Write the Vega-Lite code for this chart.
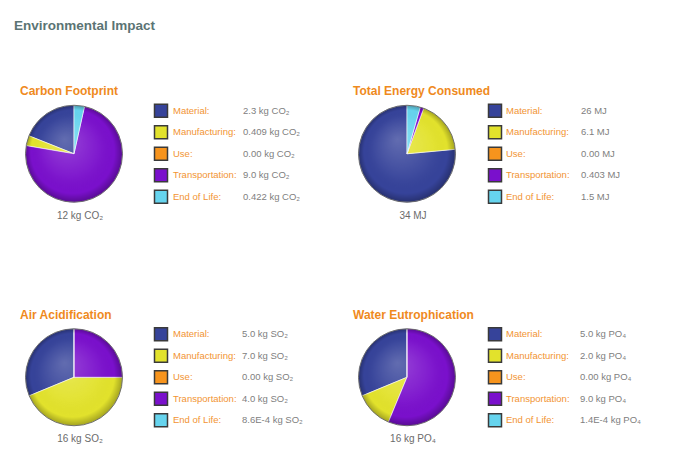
{
  "$schema": "https://vega.github.io/schema/vega-lite/v6.json",
  "padding": {"left": 14, "top": 19, "right": 5, "bottom": 5},
  "background": "white",
  "datasets": {
    "impact": [
      {"panel": "Carbon Footprint", "category": "Material", "value": 2.3, "valueLabel": "2.3 kg CO₂", "order": 1},
      {"panel": "Carbon Footprint", "category": "Manufacturing", "value": 0.409, "valueLabel": "0.409 kg CO₂", "order": 2},
      {"panel": "Carbon Footprint", "category": "Use", "value": 0, "valueLabel": "0.00 kg CO₂", "order": 3},
      {"panel": "Carbon Footprint", "category": "Transportation", "value": 9.0, "valueLabel": "9.0 kg CO₂", "order": 4},
      {"panel": "Carbon Footprint", "category": "End of Life", "value": 0.422, "valueLabel": "0.422 kg CO₂", "order": 5},
      {"panel": "Total Energy Consumed", "category": "Material", "value": 26, "valueLabel": "26 MJ", "order": 1},
      {"panel": "Total Energy Consumed", "category": "Manufacturing", "value": 6.1, "valueLabel": "6.1 MJ", "order": 2},
      {"panel": "Total Energy Consumed", "category": "Use", "value": 0, "valueLabel": "0.00 MJ", "order": 3},
      {"panel": "Total Energy Consumed", "category": "Transportation", "value": 0.403, "valueLabel": "0.403 MJ", "order": 4},
      {"panel": "Total Energy Consumed", "category": "End of Life", "value": 1.5, "valueLabel": "1.5 MJ", "order": 5},
      {"panel": "Air Acidification", "category": "Material", "value": 5.0, "valueLabel": "5.0 kg SO₂", "order": 1},
      {"panel": "Air Acidification", "category": "Manufacturing", "value": 7.0, "valueLabel": "7.0 kg SO₂", "order": 2},
      {"panel": "Air Acidification", "category": "Use", "value": 0, "valueLabel": "0.00 kg SO₂", "order": 3},
      {"panel": "Air Acidification", "category": "Transportation", "value": 4.0, "valueLabel": "4.0 kg SO₂", "order": 4},
      {"panel": "Air Acidification", "category": "End of Life", "value": 0.00086, "valueLabel": "8.6E-4 kg SO₂", "order": 5},
      {"panel": "Water Eutrophication", "category": "Material", "value": 5.0, "valueLabel": "5.0 kg PO₄", "order": 1},
      {"panel": "Water Eutrophication", "category": "Manufacturing", "value": 2.0, "valueLabel": "2.0 kg PO₄", "order": 2},
      {"panel": "Water Eutrophication", "category": "Use", "value": 0, "valueLabel": "0.00 kg PO₄", "order": 3},
      {"panel": "Water Eutrophication", "category": "Transportation", "value": 9.0, "valueLabel": "9.0 kg PO₄", "order": 4},
      {"panel": "Water Eutrophication", "category": "End of Life", "value": 0.00014, "valueLabel": "1.4E-4 kg PO₄", "order": 5}
    ]
  },
  "data": {"name": "impact"},
  "title": {"text": "Environmental Impact", "anchor": "start", "dx": -6, "offset": 52.5, "font": "Liberation Sans, Arial, sans-serif", "fontSize": 13.5, "fontWeight": "bold", "color": "#5b7474"},
  "columns": 4,
  "spacing": {"row": 115.5, "column": 26},
  "bounds": "flush",
  "align": "each",
  "concat": [
    {
      "width": 108, "height": 107.5,
      "title": {"text": "Carbon Footprint", "anchor": "start", "offset": 2, "font": "Liberation Sans, Arial, sans-serif", "fontSize": 12, "fontWeight": "bold", "color": "#ef8a1d"},
      "transform": [{"filter": "datum.panel === 'Carbon Footprint'"}],
      "layer": [
        {
          "transform": [{"filter": "datum.value > 0"}],
          "mark": {"type": "arc", "radius": 48.5, "stroke": "#ffffff", "strokeWidth": 0.8, "strokeOpacity": 0.7},
          "encoding": {
            "theta": {"field": "value", "type": "quantitative", "stack": true},
            "order": {"field": "order", "sort": "descending"},
            "color": {"field": "category", "type": "nominal", "scale": {"domain": ["Material", "Manufacturing", "Use", "Transportation", "End of Life"], "range": ["#36439a", "#e2e22c", "#f7941d", "#7a10cc", "#66d4ee"]}, "legend": null}
          }
        },
        {
          "transform": [{"aggregate": [{"op": "sum", "field": "value", "as": "total"}]}],
          "mark": {"type": "arc", "radius": 48.5, "theta": 0, "theta2": 6.2832, "fill": {"gradient": "radial", "x1": 0.4, "y1": 0.35, "r1": 0, "x2": 0.5, "y2": 0.5, "r2": 0.5, "stops": [{"offset": 0, "color": "rgba(255,255,255,0.22)"}, {"offset": 0.6, "color": "rgba(255,255,255,0.04)"}, {"offset": 0.86, "color": "rgba(0,0,0,0)"}, {"offset": 1, "color": "rgba(0,0,0,0.28)"}]}, "stroke": "#5a5a5a", "strokeWidth": 1, "strokeOpacity": 0.8},
          "encoding": {}
        },
        {
          "transform": [{"aggregate": [{"op": "sum", "field": "value", "as": "total"}]}],
          "mark": {"type": "text", "text": "12 kg CO₂", "align": "center", "baseline": "alphabetic", "dx": 6, "dy": 65, "font": "Liberation Sans, Arial, sans-serif", "fontSize": 10, "color": "#6b6b6b"},
          "encoding": {}
        }
      ]
    },
    {
      "width": 173, "height": 107.5,
      "transform": [{"filter": "datum.panel === 'Carbon Footprint'"}],
      "encoding": {
        "y": {"field": "category", "type": "nominal", "scale": {"domain": ["Material", "Manufacturing", "Use", "Transportation", "End of Life"]}, "axis": null},
        "x": {"datum": 0, "type": "quantitative", "scale": {"domain": [0, 1]}, "axis": null}
      },
      "layer": [
        {
          "mark": {"type": "square", "size": 169, "filled": true, "opacity": 1, "stroke": "#3a3a3a", "strokeWidth": 1.5, "xOffset": 7},
          "encoding": {"color": {"field": "category", "type": "nominal", "scale": {"domain": ["Material", "Manufacturing", "Use", "Transportation", "End of Life"], "range": ["#36439a", "#e2e22c", "#f7941d", "#7a10cc", "#66d4ee"]}, "legend": null}}
        },
        {
          "mark": {"type": "text", "align": "left", "baseline": "middle", "dx": 19, "font": "Liberation Sans, Arial, sans-serif", "fontSize": 9.5, "color": "#f29433", "text": {"expr": "datum.category + ':'"}}
        },
        {
          "mark": {"type": "text", "align": "left", "baseline": "middle", "dx": 89, "font": "Liberation Sans, Arial, sans-serif", "fontSize": 9.5, "color": "#808080"},
          "encoding": {"text": {"field": "valueLabel"}}
        }
      ]
    },
    {
      "width": 108, "height": 107.5,
      "title": {"text": "Total Energy Consumed", "anchor": "start", "offset": 2, "font": "Liberation Sans, Arial, sans-serif", "fontSize": 12, "fontWeight": "bold", "color": "#ef8a1d"},
      "transform": [{"filter": "datum.panel === 'Total Energy Consumed'"}],
      "layer": [
        {
          "transform": [{"filter": "datum.value > 0"}],
          "mark": {"type": "arc", "radius": 48.5, "stroke": "#ffffff", "strokeWidth": 0.8, "strokeOpacity": 0.7},
          "encoding": {
            "theta": {"field": "value", "type": "quantitative", "stack": true},
            "order": {"field": "order", "sort": "descending"},
            "color": {"field": "category", "type": "nominal", "scale": {"domain": ["Material", "Manufacturing", "Use", "Transportation", "End of Life"], "range": ["#36439a", "#e2e22c", "#f7941d", "#7a10cc", "#66d4ee"]}, "legend": null}
          }
        },
        {
          "transform": [{"aggregate": [{"op": "sum", "field": "value", "as": "total"}]}],
          "mark": {"type": "arc", "radius": 48.5, "theta": 0, "theta2": 6.2832, "fill": {"gradient": "radial", "x1": 0.4, "y1": 0.35, "r1": 0, "x2": 0.5, "y2": 0.5, "r2": 0.5, "stops": [{"offset": 0, "color": "rgba(255,255,255,0.22)"}, {"offset": 0.6, "color": "rgba(255,255,255,0.04)"}, {"offset": 0.86, "color": "rgba(0,0,0,0)"}, {"offset": 1, "color": "rgba(0,0,0,0.28)"}]}, "stroke": "#5a5a5a", "strokeWidth": 1, "strokeOpacity": 0.8},
          "encoding": {}
        },
        {
          "transform": [{"aggregate": [{"op": "sum", "field": "value", "as": "total"}]}],
          "mark": {"type": "text", "text": "34 MJ", "align": "center", "baseline": "alphabetic", "dx": 6, "dy": 65, "font": "Liberation Sans, Arial, sans-serif", "fontSize": 10, "color": "#6b6b6b"},
          "encoding": {}
        }
      ]
    },
    {
      "width": 173, "height": 107.5,
      "transform": [{"filter": "datum.panel === 'Total Energy Consumed'"}],
      "encoding": {
        "y": {"field": "category", "type": "nominal", "scale": {"domain": ["Material", "Manufacturing", "Use", "Transportation", "End of Life"]}, "axis": null},
        "x": {"datum": 0, "type": "quantitative", "scale": {"domain": [0, 1]}, "axis": null}
      },
      "layer": [
        {
          "mark": {"type": "square", "size": 169, "filled": true, "opacity": 1, "stroke": "#3a3a3a", "strokeWidth": 1.5, "xOffset": 8},
          "encoding": {"color": {"field": "category", "type": "nominal", "scale": {"domain": ["Material", "Manufacturing", "Use", "Transportation", "End of Life"], "range": ["#36439a", "#e2e22c", "#f7941d", "#7a10cc", "#66d4ee"]}, "legend": null}}
        },
        {
          "mark": {"type": "text", "align": "left", "baseline": "middle", "dx": 19, "font": "Liberation Sans, Arial, sans-serif", "fontSize": 9.5, "color": "#f29433", "text": {"expr": "datum.category + ':'"}}
        },
        {
          "mark": {"type": "text", "align": "left", "baseline": "middle", "dx": 94, "font": "Liberation Sans, Arial, sans-serif", "fontSize": 9.5, "color": "#808080"},
          "encoding": {"text": {"field": "valueLabel"}}
        }
      ]
    },
    {
      "width": 108, "height": 107.5,
      "title": {"text": "Air Acidification", "anchor": "start", "offset": 2, "font": "Liberation Sans, Arial, sans-serif", "fontSize": 12, "fontWeight": "bold", "color": "#ef8a1d"},
      "transform": [{"filter": "datum.panel === 'Air Acidification'"}],
      "layer": [
        {
          "transform": [{"filter": "datum.value > 0"}],
          "mark": {"type": "arc", "radius": 48.5, "stroke": "#ffffff", "strokeWidth": 0.8, "strokeOpacity": 0.7},
          "encoding": {
            "theta": {"field": "value", "type": "quantitative", "stack": true},
            "order": {"field": "order", "sort": "descending"},
            "color": {"field": "category", "type": "nominal", "scale": {"domain": ["Material", "Manufacturing", "Use", "Transportation", "End of Life"], "range": ["#36439a", "#e2e22c", "#f7941d", "#7a10cc", "#66d4ee"]}, "legend": null}
          }
        },
        {
          "transform": [{"aggregate": [{"op": "sum", "field": "value", "as": "total"}]}],
          "mark": {"type": "arc", "radius": 48.5, "theta": 0, "theta2": 6.2832, "fill": {"gradient": "radial", "x1": 0.4, "y1": 0.35, "r1": 0, "x2": 0.5, "y2": 0.5, "r2": 0.5, "stops": [{"offset": 0, "color": "rgba(255,255,255,0.22)"}, {"offset": 0.6, "color": "rgba(255,255,255,0.04)"}, {"offset": 0.86, "color": "rgba(0,0,0,0)"}, {"offset": 1, "color": "rgba(0,0,0,0.28)"}]}, "stroke": "#5a5a5a", "strokeWidth": 1, "strokeOpacity": 0.8},
          "encoding": {}
        },
        {
          "transform": [{"aggregate": [{"op": "sum", "field": "value", "as": "total"}]}],
          "mark": {"type": "text", "text": "16 kg SO₂", "align": "center", "baseline": "alphabetic", "dx": 6, "dy": 65, "font": "Liberation Sans, Arial, sans-serif", "fontSize": 10, "color": "#6b6b6b"},
          "encoding": {}
        }
      ]
    },
    {
      "width": 173, "height": 107.5,
      "transform": [{"filter": "datum.panel === 'Air Acidification'"}],
      "encoding": {
        "y": {"field": "category", "type": "nominal", "scale": {"domain": ["Material", "Manufacturing", "Use", "Transportation", "End of Life"]}, "axis": null},
        "x": {"datum": 0, "type": "quantitative", "scale": {"domain": [0, 1]}, "axis": null}
      },
      "layer": [
        {
          "mark": {"type": "square", "size": 169, "filled": true, "opacity": 1, "stroke": "#3a3a3a", "strokeWidth": 1.5, "xOffset": 7},
          "encoding": {"color": {"field": "category", "type": "nominal", "scale": {"domain": ["Material", "Manufacturing", "Use", "Transportation", "End of Life"], "range": ["#36439a", "#e2e22c", "#f7941d", "#7a10cc", "#66d4ee"]}, "legend": null}}
        },
        {
          "mark": {"type": "text", "align": "left", "baseline": "middle", "dx": 19, "font": "Liberation Sans, Arial, sans-serif", "fontSize": 9.5, "color": "#f29433", "text": {"expr": "datum.category + ':'"}}
        },
        {
          "mark": {"type": "text", "align": "left", "baseline": "middle", "dx": 88, "font": "Liberation Sans, Arial, sans-serif", "fontSize": 9.5, "color": "#808080"},
          "encoding": {"text": {"field": "valueLabel"}}
        }
      ]
    },
    {
      "width": 108, "height": 107.5,
      "title": {"text": "Water Eutrophication", "anchor": "start", "offset": 2, "font": "Liberation Sans, Arial, sans-serif", "fontSize": 12, "fontWeight": "bold", "color": "#ef8a1d"},
      "transform": [{"filter": "datum.panel === 'Water Eutrophication'"}],
      "layer": [
        {
          "transform": [{"filter": "datum.value > 0"}],
          "mark": {"type": "arc", "radius": 48.5, "stroke": "#ffffff", "strokeWidth": 0.8, "strokeOpacity": 0.7},
          "encoding": {
            "theta": {"field": "value", "type": "quantitative", "stack": true},
            "order": {"field": "order", "sort": "descending"},
            "color": {"field": "category", "type": "nominal", "scale": {"domain": ["Material", "Manufacturing", "Use", "Transportation", "End of Life"], "range": ["#36439a", "#e2e22c", "#f7941d", "#7a10cc", "#66d4ee"]}, "legend": null}
          }
        },
        {
          "transform": [{"aggregate": [{"op": "sum", "field": "value", "as": "total"}]}],
          "mark": {"type": "arc", "radius": 48.5, "theta": 0, "theta2": 6.2832, "fill": {"gradient": "radial", "x1": 0.4, "y1": 0.35, "r1": 0, "x2": 0.5, "y2": 0.5, "r2": 0.5, "stops": [{"offset": 0, "color": "rgba(255,255,255,0.22)"}, {"offset": 0.6, "color": "rgba(255,255,255,0.04)"}, {"offset": 0.86, "color": "rgba(0,0,0,0)"}, {"offset": 1, "color": "rgba(0,0,0,0.28)"}]}, "stroke": "#5a5a5a", "strokeWidth": 1, "strokeOpacity": 0.8},
          "encoding": {}
        },
        {
          "transform": [{"aggregate": [{"op": "sum", "field": "value", "as": "total"}]}],
          "mark": {"type": "text", "text": "16 kg PO₄", "align": "center", "baseline": "alphabetic", "dx": 6, "dy": 65, "font": "Liberation Sans, Arial, sans-serif", "fontSize": 10, "color": "#6b6b6b"},
          "encoding": {}
        }
      ]
    },
    {
      "width": 173, "height": 107.5,
      "transform": [{"filter": "datum.panel === 'Water Eutrophication'"}],
      "encoding": {
        "y": {"field": "category", "type": "nominal", "scale": {"domain": ["Material", "Manufacturing", "Use", "Transportation", "End of Life"]}, "axis": null},
        "x": {"datum": 0, "type": "quantitative", "scale": {"domain": [0, 1]}, "axis": null}
      },
      "layer": [
        {
          "mark": {"type": "square", "size": 169, "filled": true, "opacity": 1, "stroke": "#3a3a3a", "strokeWidth": 1.5, "xOffset": 8},
          "encoding": {"color": {"field": "category", "type": "nominal", "scale": {"domain": ["Material", "Manufacturing", "Use", "Transportation", "End of Life"], "range": ["#36439a", "#e2e22c", "#f7941d", "#7a10cc", "#66d4ee"]}, "legend": null}}
        },
        {
          "mark": {"type": "text", "align": "left", "baseline": "middle", "dx": 19, "font": "Liberation Sans, Arial, sans-serif", "fontSize": 9.5, "color": "#f29433", "text": {"expr": "datum.category + ':'"}}
        },
        {
          "mark": {"type": "text", "align": "left", "baseline": "middle", "dx": 93, "font": "Liberation Sans, Arial, sans-serif", "fontSize": 9.5, "color": "#808080"},
          "encoding": {"text": {"field": "valueLabel"}}
        }
      ]
    }
  ],
  "config": {
    "view": {"stroke": null}
  }
}
